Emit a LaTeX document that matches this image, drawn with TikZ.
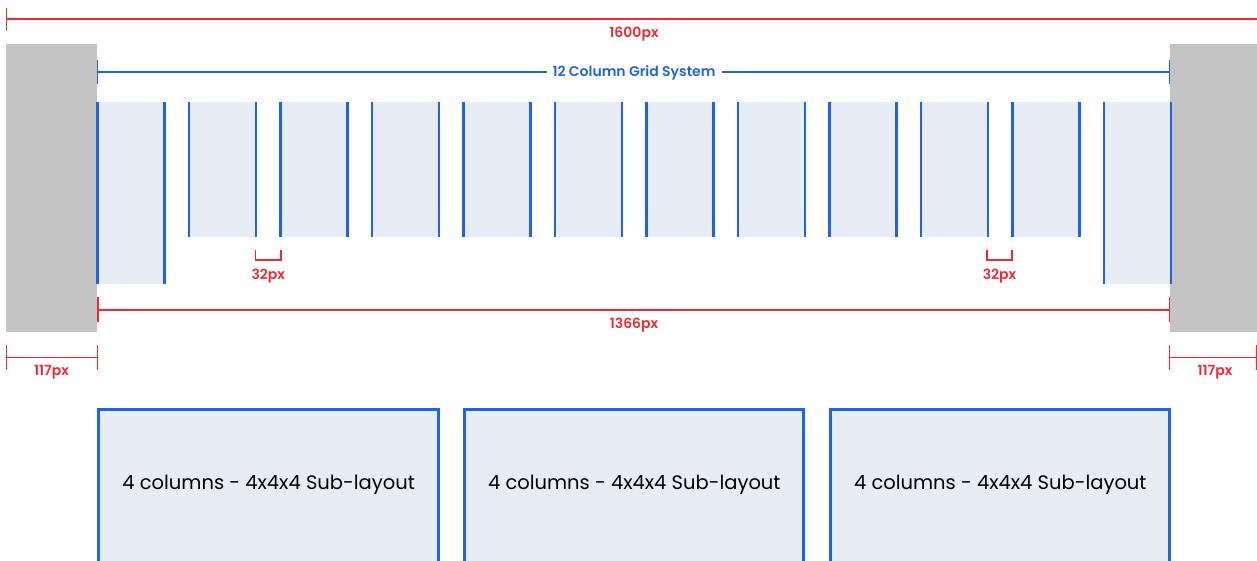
\documentclass[tikz,border=0pt]{standalone}
\usepackage{fontspec}
\setmainfont{Poppins}
\newfontfamily\psemi{Poppins SemiBold}
\definecolor{dimred}{HTML}{EE2B33}
\definecolor{gridblue}{HTML}{1F63E6}
\definecolor{colfill}{HTML}{E8EDF5}
\definecolor{margingray}{HTML}{C4C4C4}
\tikzset{
  dimline/.style={draw=dimred, line width=1.5pt},
  dimlabel/.style={text=dimred, font=\fontsize{14}{16}\selectfont\psemi, inner sep=0pt},
  colline/.style={draw=gridblue, line width=2.5pt},
  colbg/.style={fill=colfill, draw=none},
  subbox/.style={draw=gridblue, fill=colfill, line width=3pt},
  subtext/.style={text=black, font=\fontsize{19.5}{22}\selectfont, inner sep=0pt},
  titlelabel/.style={text=gridblue, fill=white, font=\fontsize{14}{16}\selectfont\psemi, inner xsep=6pt, inner ysep=2pt},
}
\begin{document}
\begin{tikzpicture}[x=1pt,y=-1pt]
\useasboundingbox (0,0) rectangle (1257,560);
\clip (0,0) rectangle (1257,560);
% margins
\fill[margingray] (6,44) rectangle (97,332);
\fill[margingray] (1170,44) rectangle (1260,332);
% columns
\foreach \i in {0,...,11}{
  \pgfmathsetmacro{\xl}{97.3+91.5*\i}
  \pgfmathsetmacro{\xr}{\xl+67}
  \ifnum\i=0 \def\yb{284}\else\ifnum\i=11 \def\yb{284}\else\def\yb{236.5}\fi\fi
  \fill[colbg] (\xl,102) rectangle (\xr,\yb);
  \coordinate (c\i tl) at (\xl,102);
  \coordinate (c\i bl) at (\xl,\yb);
  \coordinate (c\i tr) at (\xr,102);
  \coordinate (c\i br) at (\xr,\yb);
  \draw[colline] (c\i tl) -- (c\i bl);
  \draw[colline] (c\i tr) -- (c\i br);
}
% top 1600px dimension
\coordinate (t1a) at (6.7,8);
\coordinate (t1b) at (6.7,31);
\coordinate (t1l) at (6.7,19);
\coordinate (t1r) at (1262,19);
\draw[dimline] (t1a) -- (t1b);
\draw[dimline] (t1l) -- (t1r);
\node[dimlabel] (l1600) at (634,34.5) {1600px};
% 12 column grid system
\coordinate (g1a) at (97.5,60);
\coordinate (g1b) at (97.5,84);
\coordinate (g2a) at (1169.7,60);
\coordinate (g2b) at (1169.7,84);
\coordinate (gl) at (97.5,72);
\coordinate (gr) at (1169.7,72);
\draw[draw=gridblue, line width=1.5pt] (g1a) -- (g1b);
\draw[draw=gridblue, line width=1.5pt] (g2a) -- (g2b);
\draw[draw=gridblue, line width=1.5pt] (gl) -- (gr);
\node[titlelabel] (title) at (634,73) {12 Column Grid System};
% 32px brackets
\coordinate (ba1) at (255.7,249.5);
\coordinate (ba2) at (255.7,260);
\coordinate (ba3) at (281,260);
\coordinate (ba4) at (281,249.5);
\draw[dimline] (ba1) -- (ba2) -- (ba3) -- (ba4);
\node[dimlabel] (l32a) at (268.3,276.5) {32px};
\coordinate (bb1) at (986.8,249.5);
\coordinate (bb2) at (986.8,260);
\coordinate (bb3) at (1012.2,260);
\coordinate (bb4) at (1012.2,249.5);
\draw[dimline] (bb1) -- (bb2) -- (bb3) -- (bb4);
\node[dimlabel] (l32b) at (999.5,276.5) {32px};
% 1366px dimension
\coordinate (w1a) at (98,297);
\coordinate (w1b) at (98,322);
\coordinate (w2a) at (1169.5,297);
\coordinate (w2b) at (1169.5,322);
\coordinate (wl) at (98,310);
\coordinate (wr) at (1169.5,310);
\draw[draw=dimred, line width=1.6pt] (w1a) -- (w1b);
\draw[draw=dimred, line width=1.6pt] (w2a) -- (w2b);
\draw[draw=dimred, line width=1.6pt] (wl) -- (wr);
\node[dimlabel] (l1366) at (634,325) {1366px};
% 117px left
\coordinate (m1a) at (6.7,345);
\coordinate (m1b) at (6.7,370);
\coordinate (m2a) at (97.5,345);
\coordinate (m2b) at (97.5,370);
\coordinate (ml) at (6.7,357.5);
\coordinate (mr) at (97.5,357.5);
\draw[dimline] (m1a) -- (m1b);
\draw[dimline] (m2a) -- (m2b);
\draw[dimline] (ml) -- (mr);
\node[dimlabel] (l117a) at (51.5,372) {117px};
% 117px right
\coordinate (n1a) at (1169.7,345);
\coordinate (n1b) at (1169.7,370);
\coordinate (n2a) at (1257,345);
\coordinate (n2b) at (1257,370);
\coordinate (nl) at (1169.7,357.5);
\coordinate (nr) at (1257,357.5);
\draw[dimline] (n1a) -- (n1b);
\draw[dimline] (n2a) -- (n2b);
\draw[dimline] (nl) -- (nr);
\node[dimlabel] (l117b) at (1215,372) {117px};
% sub-layout boxes
\foreach \j/\xa/\xb in {1/98.8/438.5, 2/464.8/803.8, 3/830.8/1169.8}{
  \draw[subbox] (\xa,409.8) rectangle (\xb,580);
  \node[subtext] (sub\j) at ({(\xa+\xb)/2},484.5) {4 columns - 4x4x4 Sub-layout};
}
\end{tikzpicture}
\end{document}
